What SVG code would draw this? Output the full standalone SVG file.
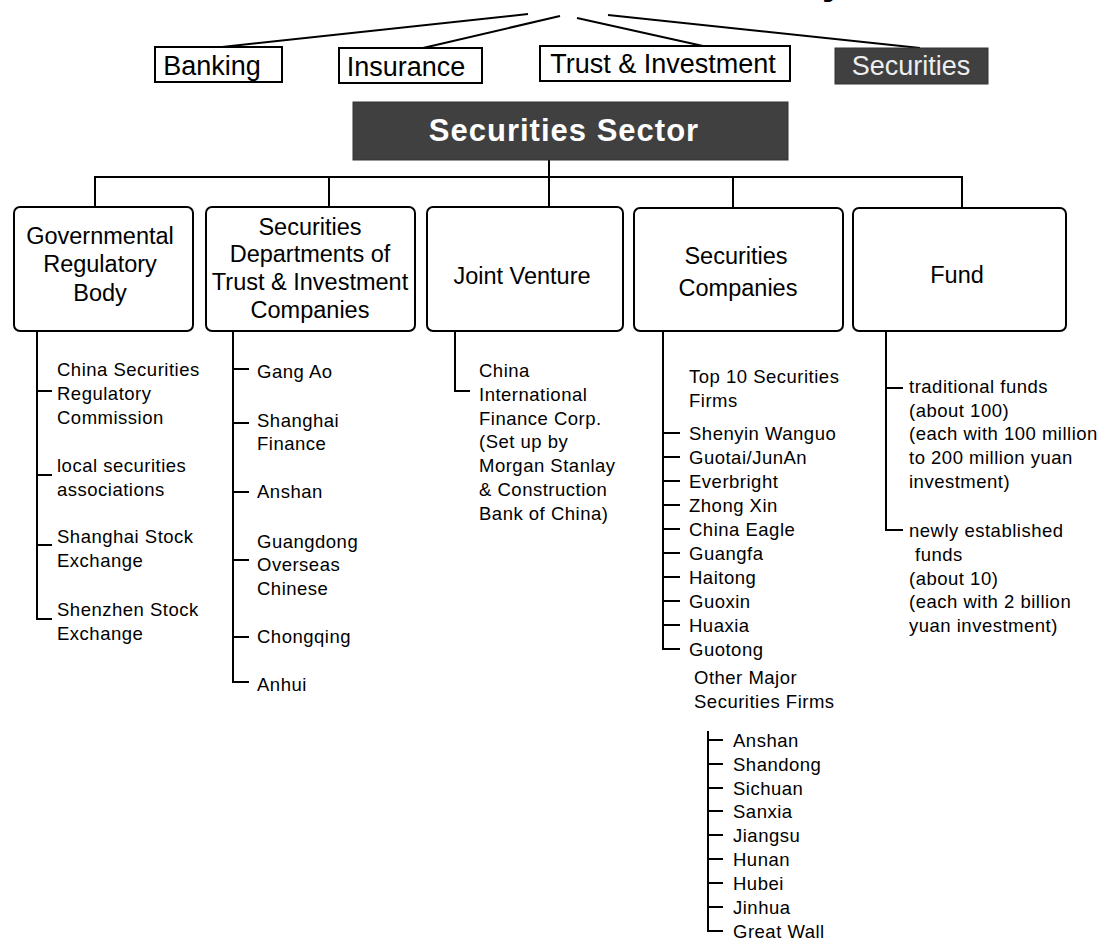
<svg xmlns="http://www.w3.org/2000/svg" width="1104" height="940" viewBox="0 0 1104 940">
<style>
  .bg{fill:#ffffff}
  .ln{stroke:#000;stroke-width:2;fill:none}
  .box{fill:#fff;stroke:#000;stroke-width:2}
  .dark{fill:#404040;stroke:#333;stroke-width:1}
  .top{font-family:"Liberation Sans",Arial,sans-serif;font-size:27px;fill:#000;text-anchor:middle}
  .topw{font-family:"Liberation Sans",Arial,sans-serif;font-size:27px;fill:#eeeeee;text-anchor:middle}
  .sector{font-family:"Liberation Sans",Arial,sans-serif;font-size:31px;font-weight:bold;letter-spacing:1px;fill:#fff;text-anchor:middle}
  .cat{font-family:"Liberation Sans",Arial,sans-serif;font-size:23.5px;fill:#000;text-anchor:middle}
  .item{font-family:"Liberation Sans",Arial,sans-serif;font-size:18.5px;letter-spacing:0.5px;fill:#000}
</style>
<rect class="bg" x="0" y="0" width="1104" height="940"/>

<text x="822" y="-6" style="font-family:'Liberation Sans',Arial,sans-serif;font-size:40px;font-weight:bold;fill:#000">y</text>

<g id="connectors">
  <line class="ln" x1="528" y1="14" x2="222" y2="47"/>
  <line class="ln" x1="560" y1="16" x2="423" y2="48"/>
  <line class="ln" x1="577" y1="18" x2="703" y2="46"/>
  <line class="ln" x1="608" y1="15" x2="920" y2="48"/>
  <line class="ln" x1="549" y1="160" x2="549" y2="208"/>
  <polyline class="ln" points="95,208 95,177 962,177 962,209"/>
  <line class="ln" x1="329" y1="177" x2="329" y2="208"/>
  <line class="ln" x1="733" y1="177" x2="733" y2="209"/>
  <path class="ln" d="M37,331 V619 H52 M37,391 H52 M37,475 H52 M37,545 H52"/>
  <path class="ln" d="M233,331 V682 H249 M233,369 H249 M233,423 H249 M233,492 H249 M233,560 H249 M233,637 H249"/>
  <path class="ln" d="M455,331 V391 H470"/>
  <path class="ln" d="M663,331 V649 H680 M663,433 H680 M663,457 H680 M663,481 H680 M663,505 H680 M663,529 H680 M663,553 H680 M663,577 H680 M663,601 H680 M663,625 H680"/>
  <path class="ln" d="M708,731 V931 H723 M708,740 H723 M708,764 H723 M708,788 H723 M708,811 H723 M708,835 H723 M708,859 H723 M708,883 H723 M708,907 H723"/>
  <path class="ln" d="M886,331 V530 H903 M886,388 H903"/>
</g>

<g id="banking">
  <rect class="box" x="155" y="47" width="127" height="35"/>
  <text class="top" x="212" y="75">Banking</text>
</g>
<g id="insurance">
  <rect class="box" x="339" y="48" width="143" height="35"/>
  <text class="top" x="406" y="76">Insurance</text>
</g>
<g id="trust">
  <rect class="box" x="540" y="46" width="250" height="35"/>
  <text class="top" x="663" y="73">Trust &amp; Investment</text>
</g>
<g id="securities">
  <rect class="dark" x="835" y="48" width="153" height="36"/>
  <text class="topw" x="911" y="75">Securities</text>
</g>

<g id="sector">
  <rect class="dark" x="353" y="102" width="435" height="58"/>
  <text class="sector" x="564" y="141">Securities Sector</text>
</g>

<g id="gov">
  <rect class="box" x="14" y="207" width="179" height="124" rx="6"/>
  <text class="cat" x="100" y="244">Governmental</text>
  <text class="cat" x="100" y="272">Regulatory</text>
  <text class="cat" x="100" y="301">Body</text>
</g>
<g id="secdept">
  <rect class="box" x="206" y="207" width="209" height="124" rx="6"/>
  <text class="cat" x="310" y="235">Securities</text>
  <text class="cat" x="310" y="262">Departments of</text>
  <text class="cat" x="310" y="290">Trust &amp; Investment</text>
  <text class="cat" x="310" y="318">Companies</text>
</g>
<g id="jv">
  <rect class="box" x="427" y="207" width="196" height="124" rx="6"/>
  <text class="cat" x="522" y="284">Joint Venture</text>
</g>
<g id="seccomp">
  <rect class="box" x="634" y="208" width="209" height="123" rx="6"/>
  <text class="cat" x="736" y="264">Securities</text>
  <text class="cat" x="738" y="296">Companies</text>
</g>
<g id="fund">
  <rect class="box" x="853" y="208" width="213" height="123" rx="6"/>
  <text class="cat" x="957" y="283">Fund</text>
</g>

<g id="gov-items" class="item">
  <text x="57" y="376">China Securities</text>
  <text x="57" y="400">Regulatory</text>
  <text x="57" y="424">Commission</text>
  <text x="57" y="472">local securities</text>
  <text x="57" y="496">associations</text>
  <text x="57" y="543">Shanghai Stock</text>
  <text x="57" y="567">Exchange</text>
  <text x="57" y="616">Shenzhen Stock</text>
  <text x="57" y="640">Exchange</text>
</g>

<g id="secdept-items" class="item">
  <text x="257" y="378">Gang Ao</text>
  <text x="257" y="427">Shanghai</text>
  <text x="257" y="450">Finance</text>
  <text x="257" y="498">Anshan</text>
  <text x="257" y="548">Guangdong</text>
  <text x="257" y="571">Overseas</text>
  <text x="257" y="595">Chinese</text>
  <text x="257" y="643">Chongqing</text>
  <text x="257" y="691">Anhui</text>
</g>

<g id="jv-items" class="item">
  <text x="479" y="377">China</text>
  <text x="479" y="401">International</text>
  <text x="479" y="425">Finance Corp.</text>
  <text x="479" y="448">(Set up by</text>
  <text x="479" y="472">Morgan Stanlay</text>
  <text x="479" y="496">&amp; Construction</text>
  <text x="479" y="520">Bank of China)</text>
</g>

<g id="seccomp-items" class="item">
  <text x="689" y="383">Top 10 Securities</text>
  <text x="689" y="407">Firms</text>
  <text x="689" y="440">Shenyin Wanguo</text>
  <text x="689" y="464">Guotai/JunAn</text>
  <text x="689" y="488">Everbright</text>
  <text x="689" y="512">Zhong Xin</text>
  <text x="689" y="536">China Eagle</text>
  <text x="689" y="560">Guangfa</text>
  <text x="689" y="584">Haitong</text>
  <text x="689" y="608">Guoxin</text>
  <text x="689" y="632">Huaxia</text>
  <text x="689" y="656">Guotong</text>
  <text x="694" y="684">Other Major</text>
  <text x="694" y="708">Securities Firms</text>
</g>

<g id="other-items" class="item">
  <text x="733" y="747">Anshan</text>
  <text x="733" y="771">Shandong</text>
  <text x="733" y="795">Sichuan</text>
  <text x="733" y="818">Sanxia</text>
  <text x="733" y="842">Jiangsu</text>
  <text x="733" y="866">Hunan</text>
  <text x="733" y="890">Hubei</text>
  <text x="733" y="914">Jinhua</text>
  <text x="733" y="938">Great Wall</text>
</g>

<g id="fund-items" class="item">
  <text x="909" y="393">traditional funds</text>
  <text x="909" y="417">(about 100)</text>
  <text x="909" y="440">(each with 100 million</text>
  <text x="909" y="464">to 200 million yuan</text>
  <text x="909" y="488">investment)</text>
  <text x="909" y="537">newly established</text>
  <text x="915" y="561">funds</text>
  <text x="909" y="585">(about 10)</text>
  <text x="909" y="608">(each with 2 billion</text>
  <text x="909" y="632">yuan investment)</text>
</g>
</svg>
